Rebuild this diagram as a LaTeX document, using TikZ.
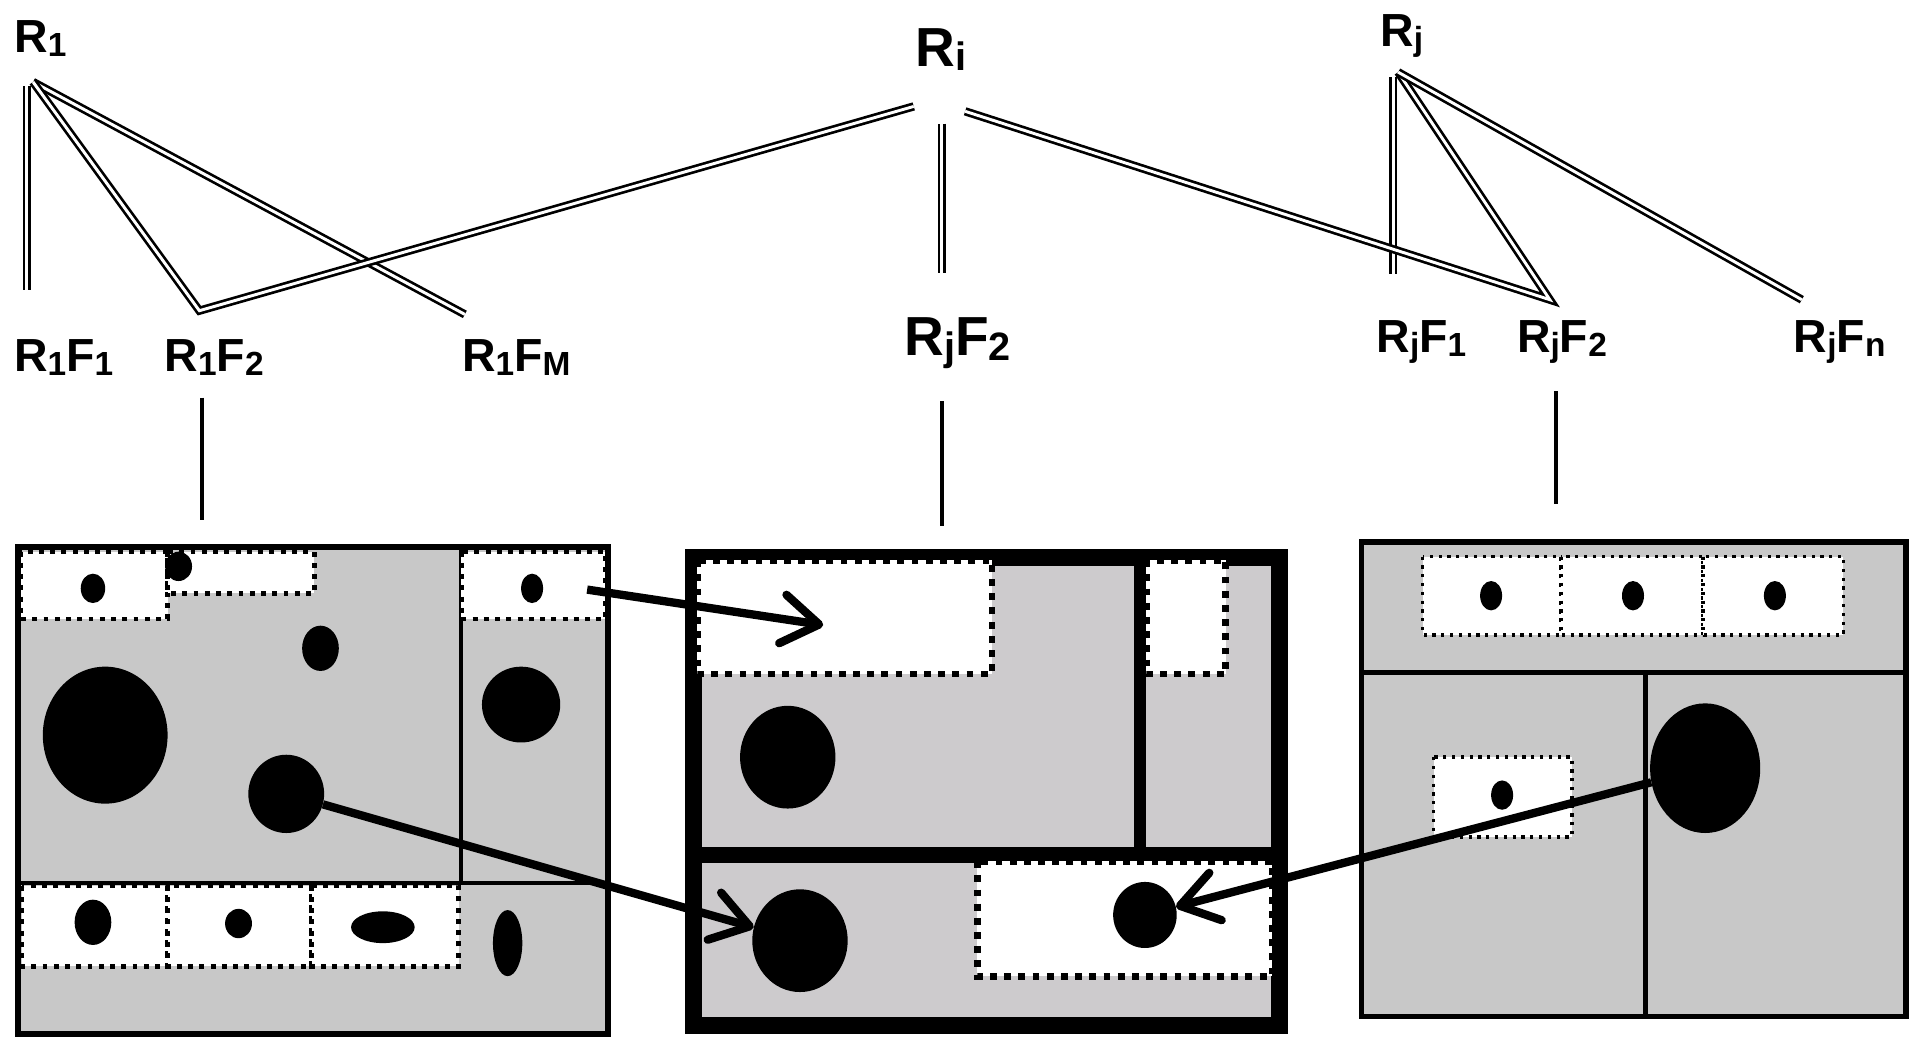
\documentclass[tikz,border=0pt]{standalone}
\usepackage{fontspec}
\setmainfont{Liberation Sans}
\usetikzlibrary{arrows.meta,shapes.geometric}
\newcommand\lo[1]{\raisebox{-0.08em}{\scalebox{0.72}{#1}}}
\definecolor{grayA}{RGB}{200,200,200}
\definecolor{grayB}{RGB}{205,203,205}
\begin{document}
\begin{tikzpicture}[x=0.05cm,y=-0.05cm,
  lbl/.style={anchor=base,inner sep=0pt,font=\fontsize{54}{60}\selectfont\bfseries},
  biglbl/.style={anchor=base,inner sep=0pt,font=\fontsize{64}{70}\selectfont\bfseries},
  dbl/.style={double,double distance=0.12cm,line width=0.11cm,line join=miter},
  link/.style={line width=0.14cm},
  arr/.style={line width=0.34cm,-{Straight Barb[length=1.5cm,width=2.0cm,round]}},
  blob/.style={ellipse,fill=black,inner sep=0pt,draw=none},
  border/.style={draw=black,line width=0.24cm},
  inner/.style={draw=black,line width=0.19cm},
  dotL/.style={fill=white,draw=black,line width=0.2cm,dash pattern=on 0.2cm off 0.26cm},
  dotM/.style={fill=white,draw=black,line width=0.28cm,dash pattern=on 0.28cm off 0.3cm},
  dotR/.style={fill=white,draw=black,line width=0.15cm,dash pattern=on 0.13cm off 0.23cm}
]
\useasboundingbox (0,0) rectangle (1568,849);

% ---------- labels ----------
\node[lbl] (r1) at (33,43) {R\lo{1}};
\node[biglbl] (ri) at (769,54) {R\lo{i}};
\node[lbl] (rj) at (1146,38) {R\lo{j}};
\node[lbl] (r1f1) at (52,304) {R\lo{1}F\lo{1}};
\node[lbl] (r1f2) at (175,304) {R\lo{1}F\lo{2}};
\node[lbl] (r1fm) at (422,304) {R\lo{1}F\lo{M}};
\node[biglbl] (mrjf2) at (783,291) {R\lo{j}F\lo{2}};
\node[lbl] (rjf1) at (1162,288) {R\lo{j}F\lo{1}};
\node[lbl] (rjf2) at (1277,288) {R\lo{j}F\lo{2}};
\node[lbl] (rjfn) at (1504,288) {R\lo{j}F\lo{n}};

% ---------- tree connector points ----------
\coordinate (r1a) at (27,67);
\coordinate (r1vt) at (22,70);
\coordinate (r1vb) at (22,237);
\coordinate (r1f2c) at (163,254);
\coordinate (r1fme) at (380,257);
\coordinate (ril) at (747,87);
\coordinate (rir) at (789,91);
\coordinate (rivt) at (770,101);
\coordinate (rivb) at (770,223);
\coordinate (rja) at (1143,59);
\coordinate (rjvt) at (1139,63);
\coordinate (rjvb) at (1139,224);
\coordinate (rjf2c) at (1267,245);
\coordinate (rjfne) at (1473,245);

\draw[dbl] (r1vt) -- (r1vb);
\draw[dbl] (r1a) -- (r1fme);
\draw[dbl] (r1a) -- (r1f2c) -- (ril);
\draw[dbl] (rivt) -- (rivb);
\draw[dbl] (rjvt) -- (rjvb);
\draw[dbl] (rir) -- (rjf2c) -- (rja);
\draw[dbl] (rja) -- (rjfne);

% single links to the plans
\coordinate (l1t) at (165,325); \coordinate (l1b) at (165,425);
\coordinate (l2t) at (770,328); \coordinate (l2b) at (770,430);
\coordinate (l3t) at (1272,320); \coordinate (l3b) at (1272,412);
\draw[link] (l1t) -- (l1b);
\draw[link] (l2t) -- (l2b);
\draw[link] (l3t) -- (l3b);

% ---------- left plan ----------
\fill[grayA] (15,447) rectangle (497,845);
\draw[inner] (377,447) -- (377,722);
\draw[inner] (15,722) -- (497,722);
\filldraw[dotL] (17,451) rectangle (137,506);
\filldraw[dotL] (137,451) rectangle (257,485);
\filldraw[dotL] (377,451) rectangle (495,506);
\filldraw[dotL] (18,724) rectangle (137,790);
\filldraw[dotL] (137,724) rectangle (255,790);
\filldraw[dotL] (255,724) rectangle (375,790);
\node[blob,minimum width=1.0cm,minimum height=1.2cm] (e1) at (76,481) {};
\node[blob,minimum width=1.1cm,minimum height=1.2cm] (e2) at (146,463) {};
\node[blob,minimum width=0.9cm,minimum height=1.2cm] (e3) at (435,481) {};
\node[blob,minimum width=1.5cm,minimum height=1.85cm] (e4) at (262,530) {};
\node[blob,minimum width=5.1cm,minimum height=5.6cm] (e5) at (86,601) {};
\node[blob,minimum width=3.2cm,minimum height=3.1cm] (e6) at (426,576) {};
\node[blob,minimum width=3.1cm,minimum height=3.2cm] (e7) at (234,649) {};
\node[blob,minimum width=1.5cm,minimum height=1.85cm] (e8) at (76,754) {};
\node[blob,minimum width=1.1cm,minimum height=1.2cm] (e9) at (195,755) {};
\node[blob,minimum width=2.6cm,minimum height=1.3cm] (e10) at (313,758) {};
\node[blob,minimum width=1.2cm,minimum height=2.7cm] (e11) at (415,771) {};
\draw[border] (15,447) rectangle (497,845);

% ---------- middle plan ----------
\fill[grayB] (560,449) rectangle (1053,845);
\draw[line width=0.5cm] (932,449) -- (932,699);
\draw[line width=0.65cm] (560,699) -- (1053,699);
\draw[line width=0.7cm] (567,456) rectangle (1046,838);
\filldraw[dotM] (570,458) rectangle (811,551);
\filldraw[dotM] (937,458) rectangle (1002,551);
\filldraw[dotM] (799,704) rectangle (1040,798);
\node[blob,minimum width=3.9cm,minimum height=4.2cm] (m1) at (644,619) {};
\node[blob,minimum width=3.9cm,minimum height=4.2cm] (m2) at (654,769) {};
\node[blob,minimum width=2.6cm,minimum height=2.7cm] (m3) at (936,748) {};

% ---------- right plan ----------
\fill[grayA] (1113,443) rectangle (1558,831);
\draw[inner] (1113,550) -- (1558,550);
\draw[inner] (1345,550) -- (1345,831);
\filldraw[dotR] (1163,455) rectangle (1276,519);
\filldraw[dotR] (1276,455) rectangle (1392,519);
\filldraw[dotR] (1392,455) rectangle (1507,519);
\filldraw[dotR] (1172,619) rectangle (1285,684);
\node[blob,minimum width=0.9cm,minimum height=1.2cm] (d1) at (1219,487) {};
\node[blob,minimum width=0.9cm,minimum height=1.2cm] (d2) at (1335,487) {};
\node[blob,minimum width=0.9cm,minimum height=1.2cm] (d3) at (1451,487) {};
\node[blob,minimum width=0.9cm,minimum height=1.2cm] (d4) at (1228,650) {};
\node[blob,minimum width=4.5cm,minimum height=5.3cm] (rbig) at (1394,628) {};
\draw[border] (1113,443) rectangle (1558,831);

% ---------- arrows ----------
\coordinate (a1s) at (480,482);
\coordinate (a1e) at (673,511);
\draw[arr] (a1s) -- (a1e);
\draw[arr] (e7) -- (m2);
\draw[arr] (rbig) -- (m3);
\end{tikzpicture}
\end{document}
